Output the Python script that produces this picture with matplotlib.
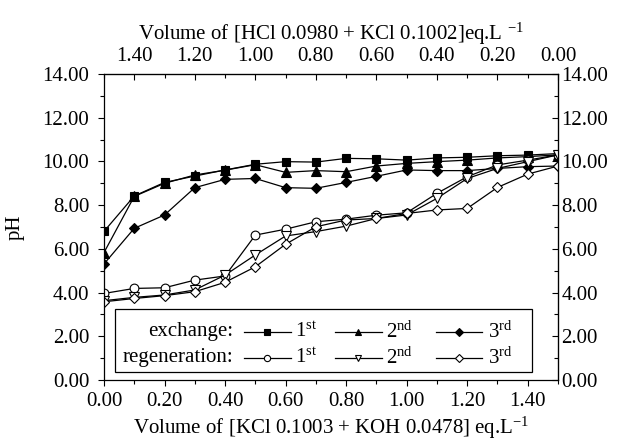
import matplotlib
matplotlib.use("Agg")
import matplotlib.pyplot as plt
from matplotlib.lines import Line2D
from matplotlib.patches import Rectangle
from matplotlib.ticker import MultipleLocator, FormatStrFormatter

plt.rcParams['font.family'] = ['Liberation Serif', 'DejaVu Serif']
plt.rcParams['mathtext.fontset'] = 'custom'
plt.rcParams['mathtext.rm'] = 'Liberation Serif'
plt.rcParams['mathtext.default'] = 'regular'
plt.rcParams['font.size'] = 15

volume = [0.0, 0.1, 0.2, 0.3, 0.4, 0.5, 0.6, 0.7, 0.8, 0.9, 1.0, 1.1, 1.2, 1.3, 1.4, 1.5]
exchange_1 = [6.80, 8.42, 9.04, 9.33, 9.61, 9.87, 9.99, 9.97, 10.14, 10.12, 10.06, 10.16, 10.19, 10.26, 10.29, 10.36]
exchange_2 = [5.83, 8.40, 9.00, 9.38, 9.60, 9.85, 9.50, 9.58, 9.53, 9.79, 9.91, 9.99, 10.06, 10.16, 10.22, 10.30]
exchange_3 = [5.31, 6.94, 7.55, 8.80, 9.18, 9.22, 8.80, 8.77, 9.04, 9.32, 9.61, 9.58, 9.58, 9.68, 9.76, 9.79]
regen_1 = [3.96, 4.19, 4.22, 4.57, 4.76, 6.63, 6.90, 7.24, 7.36, 7.54, 7.65, 8.54, 9.30, 9.84, 10.06, 10.30]
regen_2 = [3.63, 3.78, 3.89, 4.12, 4.80, 5.72, 6.59, 6.79, 7.04, 7.39, 7.55, 8.31, 9.22, 9.68, 9.99, 10.30]
regen_3 = [3.58, 3.73, 3.86, 4.04, 4.47, 5.18, 6.21, 7.01, 7.32, 7.39, 7.62, 7.78, 7.85, 8.81, 9.42, 9.79]

series = [
    (exchange_1, 's', 'black'),
    (exchange_2, '^', 'black'),
    (exchange_3, 'D', 'black'),
    (regen_1, 'o', 'white'),
    (regen_2, 'v', 'white'),
    (regen_3, 'D', 'white'),
]
ordinals = ['1$^{st}$', '2$^{nd}$', '3$^{rd}$']

fig = plt.figure(figsize=(6.22, 4.41), dpi=100)
ax = fig.add_axes([0.1672, 0.1383, 0.7299, 0.6939])

for vals, mk, fc in series:
    ms = 6.3 if mk in ('s', 'o') else (5.2 if mk == 'D' else 6.8)
    ax.plot(volume, vals, color='black', lw=0.9, marker=mk, ms=ms,
            mfc=fc, mec='black', mew=0.8)

ax.set_xlim(0, 1.5)
ax.set_ylim(0, 14)
ax.xaxis.set_major_locator(MultipleLocator(0.2))
ax.xaxis.set_minor_locator(MultipleLocator(0.1))
ax.yaxis.set_major_locator(MultipleLocator(2))
ax.yaxis.set_minor_locator(MultipleLocator(1))
ax.xaxis.set_major_formatter(FormatStrFormatter('%.2f'))
ax.yaxis.set_major_formatter(FormatStrFormatter('%.2f'))
ax.tick_params(which='both', direction='out', top=False, right=False)
ax.tick_params(which='major', length=4.5, width=0.8)
ax.tick_params(which='minor', length=3, width=0.8)
ax.tick_params(axis='y', which='major', pad=6)
ax.tick_params(axis='x', which='major', pad=4)
for s in ax.spines.values():
    s.set_linewidth(0.9)

ax.set_xlabel('Volume of [KCl 0.1003 + KOH 0.0478] eq.L$^{-1}$', labelpad=3)
ax.set_ylabel('pH', labelpad=13)

secx = ax.secondary_xaxis('top', functions=(lambda x: 1.5 - x, lambda x: 1.5 - x))
secx.xaxis.set_major_locator(MultipleLocator(0.2))
secx.xaxis.set_minor_locator(MultipleLocator(0.1))
secx.xaxis.set_major_formatter(FormatStrFormatter('%.2f'))
secx.tick_params(which='both', direction='in')
secx.tick_params(which='major', length=4.5, width=0.8, pad=6)
secx.tick_params(which='minor', length=3, width=0.8)
secx.set_xlabel('Volume of [HCl 0.0980 + KCl 0.1002]eq.L $^{-1}$', labelpad=5)

secy = ax.secondary_yaxis('right')
secy.yaxis.set_major_locator(MultipleLocator(2))
secy.yaxis.set_minor_locator(MultipleLocator(1))
secy.yaxis.set_major_formatter(FormatStrFormatter('%.2f'))
secy.tick_params(which='both', direction='in')
secy.tick_params(which='major', length=4.5, width=0.8, pad=2.5)
secy.tick_params(which='minor', length=3, width=0.8)

# legend drawn manually
ax.add_patch(Rectangle((0.024, 0.026), 0.919, 0.206, transform=ax.transAxes,
                       fill=True, facecolor='white', edgecolor='black', lw=0.9, zorder=5))
rows_y = [0.157, 0.072]
ax.text(0.284, rows_y[0], 'exchange:', transform=ax.transAxes, ha='right', va='center', zorder=6)
ax.text(0.284, rows_y[1], 'regeneration:', transform=ax.transAxes, ha='right', va='center', zorder=6)
xs = [(0.308, 0.412, 0.421), (0.509, 0.612, 0.621), (0.731, 0.833, 0.846)]
for r in range(2):
    for c in range(3):
        vals, mk, fc = series[r * 3 + c]
        x0, x1, xt = xs[c]
        ax.add_line(Line2D([x0, x1], [rows_y[r], rows_y[r]], transform=ax.transAxes,
                           color='black', lw=0.9, zorder=6))
        ax.add_line(Line2D([(x0 + x1) / 2], [rows_y[r]], transform=ax.transAxes,
                           marker=mk, ms=4.5 if mk != 'D' else 3.8, mfc=fc, mec='black',
                           mew=0.8, ls='none', zorder=7))
        ax.text(xt, rows_y[r], ordinals[c], transform=ax.transAxes, ha='left',
                va='center', zorder=6)

fig.savefig('out.png', dpi=100)
